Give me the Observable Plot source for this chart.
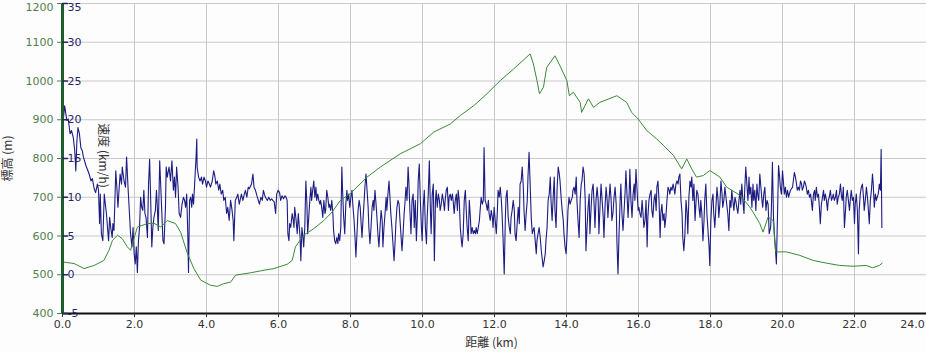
<!DOCTYPE html>
<html><head><meta charset="utf-8">
<script src="https://cdn.jsdelivr.net/npm/d3@7"></script>
<script src="https://cdn.jsdelivr.net/npm/@observablehq/plot@0.6"></script>
<style>body{margin:0;background:#fff}</style>
</head><body><div id="chart"></div><script>
// ---- tick values ----
const xTicks = [0, 2, 4, 6, 8, 10, 12, 14, 16, 18, 20, 22, 24];
const elevTicks = [400, 500, 600, 700, 800, 900, 1000, 1100, 1200];
const speedTicks = [-5, 0, 5, 10, 15, 20, 25, 30, 35];

// ---- elevation (m) vs distance (km) ----
const elevKm = [0.00,0.32,0.60,0.88,1.15,1.29,1.39,1.53,1.66,1.80,1.89,2.08,2.36,2.54,2.73,2.91,3.14,3.28,3.47,3.65,3.84,4.11,4.30,4.48,4.67,4.81,5.22,5.50,5.87,6.24,6.38,6.47,6.70,6.98,7.26,7.49,7.72,8.00,8.46,8.83,9.38,9.94,10.31,10.77,11.05,11.42,11.79,12.16,12.53,12.99,13.08,13.18,13.25,13.36,13.45,13.68,13.82,14.01,14.08,14.19,14.38,14.42,14.61,14.75,14.93,15.40,15.67,15.81,15.99,16.23,16.50,16.69,16.97,17.20,17.34,17.48,17.61,17.80,17.98,18.26,18.45,18.68,18.82,19.09,19.18,19.37,19.46,19.60,19.74,19.81,20.11,20.48,20.85,21.22,21.59,21.96,22.33,22.50,22.69,22.77];
const elevM = [533,529,516,524,537,563,589,602,593,572,563,623,632,633,623,640,632,610,555,516,486,473,470,477,481,499,505,510,516,527,537,572,602,619,640,662,692,710,752,778,812,838,868,889,911,936,967,1001,1031,1070,1044,1001,967,984,1035,1065,1039,1001,962,971,945,919,954,932,945,962,945,919,902,872,851,834,808,773,799,773,752,756,769,752,726,713,705,675,662,632,610,649,640,559,559,550,537,530,524,522,524,518,524,530];

// ---- speed (km/h) vs distance (km) ----
const speedKm = [
0.00,0.06,0.12,0.16,0.21,0.25,0.30,0.34,0.37,0.40,
0.43,0.47,0.51,0.55,0.58,0.65,0.74,0.79,0.83,0.88,
0.92,0.97,1.00,1.03,1.05,1.08,1.12,1.16,1.19,1.22,
1.25,1.28,1.31,1.34,1.38,1.40,1.43,1.45,1.48,1.51,
1.54,1.57,1.60,1.64,1.66,1.71,1.75,1.78,1.82,1.86,
1.89,1.93,1.96,1.99,2.02,2.05,2.08,2.11,2.14,2.17,
2.20,2.23,2.26,2.29,2.32,2.36,2.39,2.42,2.45,2.48,
2.51,2.54,2.58,2.61,2.63,2.66,2.70,2.73,2.76,2.79,
2.82,2.86,2.88,2.91,2.96,3.00,3.04,3.08,3.11,3.14,
3.17,3.21,3.24,3.28,3.32,3.36,3.39,3.42,3.45,3.48,
3.50,3.53,3.56,3.59,3.61,3.64,3.67,3.71,3.73,3.74,
3.78,3.82,3.86,3.89,3.93,3.97,4.00,4.04,4.08,4.11,
4.16,4.20,4.23,4.26,4.30,4.34,4.37,4.41,4.45,4.48,
4.52,4.56,4.59,4.63,4.67,4.71,4.74,4.76,4.80,4.84,
4.87,4.91,
4.97,5.01,5.05,5.08,5.12,5.16,5.19,5.25,5.29,5.32,
5.36,5.40,5.44,5.47,5.51,5.55,5.58,5.62,5.66,5.69,
5.73,5.77,5.81,5.84,5.88,5.92,5.95,5.99,6.03,6.06,
6.10,6.14,6.18,6.21,6.24,6.26,6.29,6.31,6.34,6.38,
6.41,6.43,6.45,6.49,6.52,6.55,6.57,6.60,6.62,6.65,
6.67,6.70,6.73,6.76,6.79,6.81,6.84,6.87,6.90,6.92,
6.95,6.98,7.01,7.04,7.06,7.09,7.12,7.15,7.17,7.20,
7.23,7.26,7.29,7.31,7.34,7.37,7.40,7.42,7.45,7.48,
7.51,7.53,7.56,7.59,7.62,7.65,7.67,7.70,7.73,7.76,
7.78,7.81,7.84,7.87,7.90,7.92,7.95,7.98,8.01,8.04,
8.07,8.10,8.13,8.15,8.18,8.21,8.24,8.27,8.29,8.32,
8.35,8.38,8.40,8.43,8.46,8.49,8.51,8.54,8.57,8.60,
8.63,8.65,8.68,8.71,8.74,8.76,8.79,8.82,8.85,8.88,
8.90,8.93,8.96,8.99,9.01,9.04,9.07,9.10,9.12,9.15,
9.18,9.21,9.24,9.26,9.29,9.32,9.35,9.37,9.40,9.43,
9.46,9.49,9.51,9.54,9.57,9.60,9.62,9.65,9.68,9.71,
9.74,9.76,
9.77,9.80,9.83,9.86,9.88,9.91,9.94,9.97,9.99,10.02,
10.05,10.08,10.11,10.13,10.16,10.19,10.22,10.24,10.27,10.30,
10.33,10.36,10.38,10.41,10.44,10.47,10.49,10.52,10.55,10.58,
10.61,10.63,10.66,10.69,10.72,10.74,10.77,10.80,10.83,10.85,
10.88,10.91,10.94,10.97,10.99,11.02,11.05,11.08,11.10,11.13,
11.16,11.19,11.22,11.24,11.27,11.30,11.33,11.35,11.38,11.41,
11.44,11.47,11.49,11.52,11.55,11.58,11.60,11.63,11.66,11.69,
11.71,11.74,11.77,11.80,11.83,11.85,11.88,11.91,11.94,11.96,
11.99,12.02,12.05,12.08,12.10,12.13,12.16,12.19,12.21,12.24,
12.27,12.30,12.32,12.35,12.38,12.41,12.44,12.46,12.49,12.52,
12.55,12.57,12.60,12.63,12.66,12.69,12.71,12.74,12.77,12.80,
12.82,12.85,12.88,12.91,12.93,12.96,12.99,13.02,13.05,13.07,
13.10,13.13,13.16,13.18,13.21,13.24,13.27,13.30,13.32,13.35,
13.38,13.41,13.43,13.46,13.49,13.52,13.55,13.57,13.60,13.63,
13.66,13.68,13.71,13.74,13.77,13.80,13.82,13.85,13.88,13.91,
13.93,13.96,13.99,14.02,14.04,14.07,14.10,14.13,14.16,14.18,
14.21,14.24,14.27,14.29,14.32,14.35,14.38,14.41,14.43,14.46,
14.49,14.52,14.54,14.57,14.60,14.63,
14.65,14.68,14.71,14.74,14.77,14.79,14.82,14.85,14.88,14.90,
14.93,14.96,14.99,15.02,15.04,15.07,15.10,15.13,15.15,15.18,
15.21,15.24,15.26,15.29,15.32,15.35,15.38,15.40,15.43,15.46,
15.49,15.51,15.54,15.57,15.60,15.63,15.65,15.68,15.71,15.74,
15.76,15.79,15.82,15.85,15.88,15.90,15.93,15.96,15.99,16.01,
16.04,16.07,16.10,16.12,16.15,16.18,16.21,16.24,16.26,16.29,
16.32,16.35,16.37,16.40,16.43,16.46,16.49,16.51,16.54,16.57,
16.60,16.62,16.65,16.68,16.71,16.73,16.76,16.79,16.82,16.85,
16.87,16.90,16.93,16.96,16.98,17.01,17.04,17.07,17.10,17.12,
17.15,17.18,17.21,17.23,17.26,17.29,17.32,17.35,17.37,17.40,
17.43,17.46,17.48,17.51,17.54,17.57,17.60,17.62,17.65,17.68,
17.71,17.73,17.76,17.79,17.82,17.84,17.87,17.90,17.93,17.96,
17.98,18.01,18.04,18.07,18.09,18.12,18.15,18.18,18.21,18.23,
18.26,18.29,18.32,18.34,18.37,18.40,18.43,18.45,18.48,18.51,
18.54,18.57,18.59,18.62,18.65,18.68,18.70,18.73,18.76,18.79,
18.82,18.84,18.87,18.90,18.93,18.95,18.98,19.01,19.04,19.07,
19.09,19.12,19.15,19.18,19.20,19.23,19.26,19.29,19.31,19.34,
19.37,19.40,19.43,19.45,19.48,
19.51,19.54,19.57,19.60,19.63,19.67,19.69,19.72,19.75,19.78,
19.80,19.83,19.86,19.89,19.92,19.94,19.97,20.00,20.03,20.05,
20.08,20.11,20.14,20.17,20.19,20.22,20.28,20.30,20.33,20.36,
20.39,20.41,20.44,20.47,20.50,20.53,20.55,20.58,20.61,20.64,
20.66,20.69,20.72,20.75,20.78,20.80,20.83,20.86,20.89,20.91,
20.94,20.97,21.00,21.03,21.05,21.08,21.11,21.14,21.16,21.19,
21.22,21.25,21.27,21.30,21.33,21.36,21.39,21.41,21.44,21.47,
21.50,21.52,21.55,21.58,21.61,21.64,21.66,21.69,21.72,21.75,
21.77,21.80,21.83,21.86,21.89,21.91,21.94,21.97,22.00,22.02,
22.05,22.08,22.11,22.13,22.16,22.19,22.22,22.25,22.27,22.30,
22.33,22.36,22.38,22.41,22.44,22.47,22.50,22.52,22.55,22.58,
22.61,22.63,22.66,22.69,22.72,22.74,22.76];
const speedKmh = [
19.0,21.8,19.9,20.1,18.2,18.6,17.7,16.0,13.4,17.3,
19.0,18.2,16.4,16.0,15.2,14.1,13.0,12.1,12.4,11.1,
10.6,11.7,10.9,6.6,10.4,5.3,4.4,10.4,9.1,7.9,
6.1,4.4,7.4,6.1,4.8,6.6,5.7,8.7,13.4,11.3,
8.7,10.9,13.0,11.7,13.9,12.1,11.3,15.2,11.3,7.9,
5.3,3.6,6.1,2.7,1.4,3.6,0.3,4.4,6.1,10.0,
8.7,8.3,10.9,7.9,7.4,4.8,11.7,14.9,9.6,3.6,
6.1,7.4,8.3,10.9,9.1,5.7,14.7,11.3,7.9,4.4,
4.0,8.7,13.9,12.6,13.9,12.1,14.7,10.9,12.6,10.0,
13.9,11.3,7.9,7.4,9.1,10.0,9.6,8.7,10.4,5.3,
0.3,9.6,10.0,8.7,10.4,9.1,11.7,15.2,17.5,13.9,
12.6,12.1,12.6,11.7,12.6,12.1,11.3,12.1,11.7,11.3,
12.1,13.4,12.8,11.7,12.1,10.9,11.7,10.4,10.9,9.6,
10.0,7.9,8.7,7.0,9.6,8.3,7.0,4.4,9.6,10.0,
10.4,9.1,
10.4,9.6,10.4,10.9,10.0,11.3,11.1,11.7,13.0,11.3,
10.9,10.2,9.6,9.1,10.0,9.6,10.9,10.2,9.8,9.6,
10.0,9.6,9.8,9.6,9.4,7.9,10.4,10.9,10.6,9.6,
10.2,9.8,10.2,10.0,9.6,5.3,4.4,6.6,6.1,7.9,
7.0,6.1,8.7,7.0,5.3,7.9,6.6,4.8,1.8,6.1,
5.3,3.6,6.1,12.1,9.1,5.3,7.4,9.6,11.3,9.6,
10.9,12.1,10.0,11.3,9.6,10.4,9.6,9.1,9.6,8.7,
7.4,9.6,7.9,8.3,10.9,10.0,8.7,9.1,8.3,9.6,
7.9,5.7,4.4,4.0,4.8,4.0,5.3,4.4,6.1,13.9,
10.9,7.4,5.3,9.1,10.9,9.6,10.4,8.7,10.0,10.9,
8.7,7.0,4.4,2.3,5.3,8.3,9.6,8.7,7.0,4.8,
7.4,9.6,11.3,13.0,10.9,8.7,6.1,4.0,6.1,8.7,
9.6,8.3,10.9,9.1,7.0,5.3,3.6,6.1,8.3,7.0,
3.6,6.1,7.9,10.0,8.3,10.4,12.1,9.6,7.9,6.1,
4.0,1.8,4.4,6.6,8.7,9.6,9.1,7.4,5.3,3.1,
5.3,7.9,9.1,11.3,9.6,13.9,12.1,8.3,5.3,9.6,
10.4,7.9,
6.1,9.6,4.4,7.9,12.1,14.3,9.6,6.1,4.4,8.7,
10.9,6.1,4.0,7.4,10.4,14.7,8.3,5.3,10.4,11.7,
1.8,9.6,10.9,8.7,10.4,9.6,8.3,9.1,10.4,9.6,
8.3,9.6,10.9,11.3,8.3,10.0,10.4,9.6,10.4,9.6,
7.9,9.6,10.4,8.3,10.9,9.6,6.1,4.4,3.6,5.3,
9.6,10.9,7.9,6.1,4.4,9.6,7.4,5.3,6.1,5.3,
5.7,5.3,6.1,5.3,6.1,7.0,8.3,10.0,9.1,9.6,
16.4,9.6,9.1,8.3,9.6,7.9,7.0,8.3,7.4,6.1,
8.7,7.0,5.3,8.3,10.9,10.0,11.3,9.6,7.9,4.4,
0.1,7.0,10.0,10.9,7.4,6.1,5.3,7.4,8.3,9.6,
8.3,5.3,4.4,6.6,8.7,6.6,11.7,12.1,13.9,11.3,
8.3,5.7,7.9,9.6,12.6,15.8,11.7,7.4,5.3,5.7,
6.1,4.4,2.7,4.4,5.3,6.1,4.8,3.1,2.3,1.0,
1.8,2.7,4.4,6.1,9.6,10.4,12.6,9.6,7.0,10.0,
12.6,8.3,6.1,11.3,13.9,13.0,12.1,10.0,8.3,7.0,
5.3,3.6,2.7,5.7,8.3,10.0,9.1,9.6,10.0,10.9,
11.3,10.4,12.6,9.6,7.0,4.8,9.6,11.7,12.1,13.9,
13.0,9.6,3.1,6.1,8.7,10.4,
5.3,8.3,10.9,11.7,8.7,6.1,9.6,11.3,9.6,5.3,
8.7,11.7,9.6,7.4,4.8,8.7,11.3,9.6,7.4,9.6,
11.7,9.6,7.0,7.9,10.0,11.3,9.1,4.4,0.1,5.3,
9.6,11.7,7.9,5.7,8.3,10.9,13.4,10.4,7.4,10.4,
13.6,9.6,7.4,10.4,11.7,9.6,13.6,10.9,8.3,8.7,
7.9,7.4,9.6,8.3,6.1,7.0,9.6,3.6,7.4,9.6,
10.4,10.9,8.3,7.4,9.6,10.4,8.3,11.3,12.1,9.6,
4.8,7.9,9.1,7.0,7.9,6.1,7.4,9.6,11.3,10.9,
10.4,11.3,10.9,11.7,11.3,10.4,11.7,12.1,11.7,12.6,
13.0,9.6,7.9,4.8,3.1,5.3,9.6,7.9,5.3,10.0,
12.1,11.3,12.6,9.6,11.7,7.0,9.6,10.9,10.4,8.7,
7.4,9.6,7.9,4.4,7.0,9.6,11.7,7.9,5.7,3.6,
1.2,7.0,9.6,10.4,7.9,6.1,8.7,11.3,9.6,7.4,
9.1,12.1,10.4,8.7,9.6,11.3,10.0,9.1,7.9,5.7,
9.6,8.7,10.9,9.6,8.3,10.0,9.6,8.7,7.9,9.6,
10.9,9.1,11.7,9.6,7.9,10.9,13.9,11.7,9.6,12.6,
10.4,11.3,8.7,11.7,9.6,10.9,8.3,11.7,10.4,9.6,
13.0,11.3,9.6,8.7,10.4,
11.3,8.3,9.6,9.1,5.3,6.1,8.3,14.5,7.4,4.8,
3.6,1.4,7.4,14.1,12.6,11.3,10.4,13.4,11.7,10.4,
11.3,10.0,10.9,10.0,10.4,10.9,11.3,12.1,13.2,12.6,
11.7,10.9,11.3,10.9,12.1,11.7,10.9,11.3,12.1,11.7,
11.3,10.4,10.9,10.0,10.4,9.6,8.3,10.4,10.9,9.6,
11.3,10.0,10.4,8.3,6.6,9.1,10.0,10.9,9.6,10.4,
9.6,8.3,9.6,10.0,10.9,9.6,10.0,10.4,9.6,10.0,
10.9,9.1,10.0,10.4,11.7,10.0,9.6,11.3,6.1,8.3,
10.0,10.9,9.6,8.3,10.0,10.9,9.6,10.0,6.6,9.1,
10.4,8.3,2.7,8.3,10.4,11.3,11.7,10.0,8.3,9.6,
11.3,10.0,8.7,6.6,9.6,10.9,13.0,11.7,8.7,10.4,
9.6,10.0,10.4,11.7,10.9,16.2,6.1];

if (speedKm.length !== speedKmh.length) throw new Error("speed arrays differ: " + speedKm.length + " vs " + speedKmh.length);
if (elevKm.length !== elevM.length) throw new Error("elev arrays differ");

const elevation = elevKm.map((km, i) => ({km, m: elevM[i]}));
const speed = speedKm.map((km, i) => ({km, v: speedKmh[i]}));

// speed axis (-5..35) shares the frame with elevation (400..1200)
const toElev = s => 500 + 20 * s;

const tickShape = {draw(context, l) { context.moveTo(0, 0); context.lineTo(0, -l); }};
const cjk = "'Noto Sans CJK JP', 'DejaVu Sans', sans-serif";
const topElev = elevTicks[elevTicks.length - 1];
const topSpeed = speedTicks[speedTicks.length - 1];
const lastKm = xTicks[xTicks.length - 1];
const fmtKm = d => d.toFixed(1);

const chart = Plot.plot({
  width: 926,
  height: 353,
  marginTop: 3,
  marginBottom: 40,
  marginLeft: 62,
  marginRight: 0,
  style: {fontFamily: "'DejaVu Sans', Verdana, sans-serif", fontSize: "11px", background: "#fdfdfd", overflow: "visible"},
  x: {domain: [0, 24]},
  y: {domain: [400, 1200]},
  marks: [
    Plot.gridX(xTicks, {stroke: "#c9c9c9", strokeOpacity: 1}),
    Plot.gridY(elevTicks, {stroke: "#c9c9c9", strokeOpacity: 1}),
    Plot.line(speed, {x: "km", y: d => toElev(d.v), stroke: "#1c1c82", strokeWidth: 1.1}),
    Plot.line(elevation, {x: "km", y: "m", stroke: "#3a8a3a", strokeWidth: 1}),
    Plot.ruleY([400], {stroke: "#111", strokeWidth: 2}),
    Plot.ruleX([0], {stroke: "#1d5e2c", strokeWidth: 3}),
    // x axis: last label pulled inside the picture
    Plot.axisX(xTicks, {tickSize: 4, tickPadding: 3, tickFormat: d => d === lastKm ? "" : fmtKm(d), color: "#333", label: null}),
    Plot.axisX([lastKm], {tickSize: 0, tickPadding: 7, dx: -14, tickFormat: fmtKm, color: "#333", label: null}),
    // elevation axis (top label nudged down to stay inside)
    Plot.axisY(elevTicks, {tickSize: 5, tickPadding: 4, tickFormat: d => d === topElev ? "" : `${d}`, color: "#4f7f4f", label: null}),
    Plot.axisY([topElev], {tickSize: 0, tickPadding: 9, dy: 4, tickFormat: d => `${d}`, color: "#4f7f4f", label: null}),
    // speed axis, drawn on the same frame edge with ticks pointing inward
    Plot.vector(speedTicks, {x: () => 0, y: s => toElev(s), rotate: 90, length: 5, anchor: "start", stroke: "#22226e", shape: tickShape}),
    Plot.text(speedTicks.filter(s => s !== topSpeed), {x: () => 0, y: s => toElev(s), text: s => `${s}`, textAnchor: "start", dx: 5, fill: "#25256e"}),
    Plot.text([topSpeed], {x: () => 0, y: s => toElev(s), text: s => `${s}`, textAnchor: "start", dx: 5, dy: 4, fill: "#25256e"}),
    Plot.text(["標高 (m)"], {text: d => d, frameAnchor: "left", textAnchor: "middle", dx: -54, rotate: -90, fontSize: 12, fill: "#333", fontFamily: cjk}),
    Plot.text(["速度 (km/h)"], {text: d => d, frameAnchor: "left", textAnchor: "middle", dx: 40, dy: -3, rotate: 90, fontSize: 12, fill: "#333", fontFamily: cjk}),
    Plot.text(["距離 (km)"], {text: d => d, frameAnchor: "bottom", textAnchor: "middle", dx: -3, dy: 33, fontSize: 12, fill: "#333", fontFamily: cjk})
  ]
});
document.getElementById("chart").append(chart);
</script></body></html>
